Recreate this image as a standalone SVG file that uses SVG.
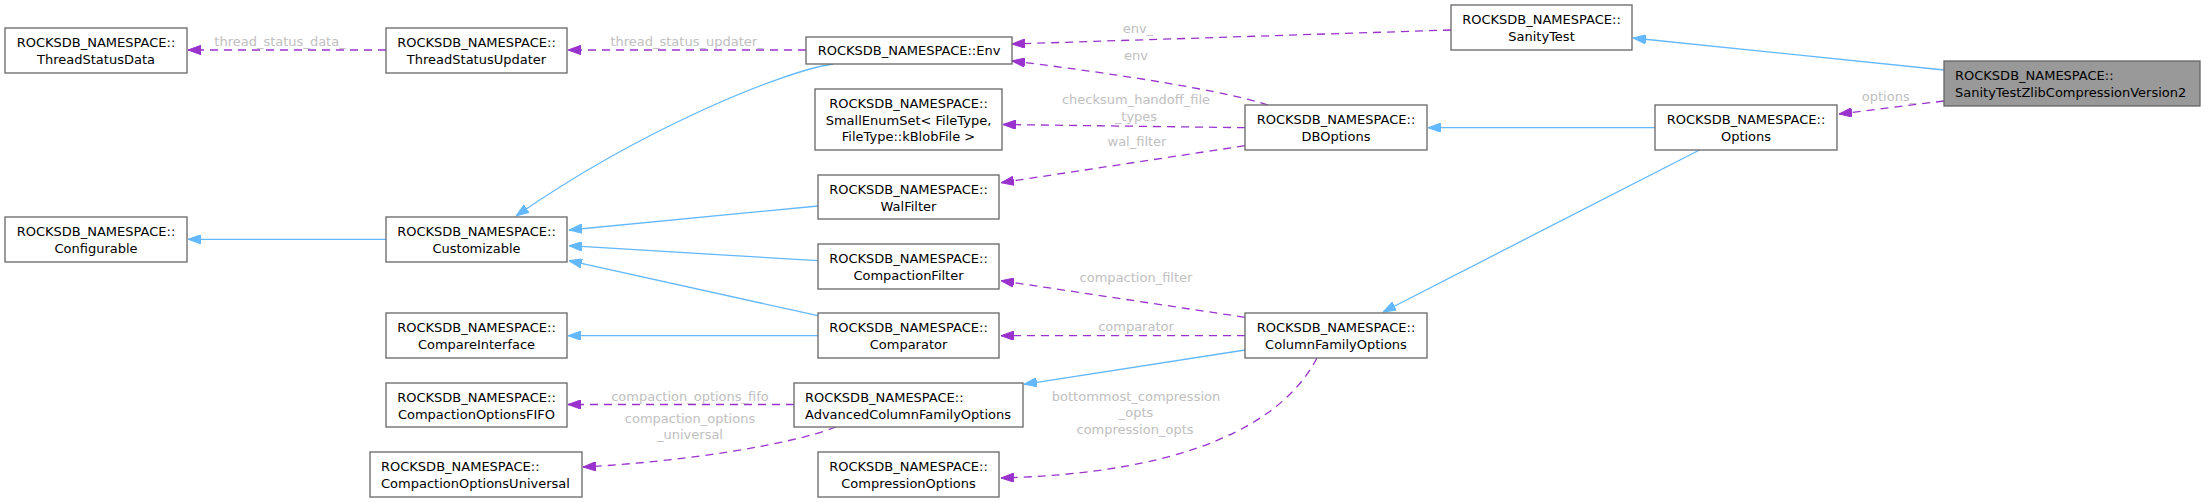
<svg xmlns="http://www.w3.org/2000/svg" width="2205" height="502" viewBox="0 0 2205 502">
<style>
.box{fill:#ffffff;stroke:#666666;stroke-width:1.3}
.main{fill:#999999;stroke:#666666;stroke-width:1.3}
.t{font-family:"DejaVu Sans",sans-serif;font-size:13px;fill:#000000}
.c{text-anchor:middle}
.l{text-anchor:start}
.inh{fill:none;stroke:#63b8ff;stroke-width:1.3;marker-end:url(#ab)}
.use{fill:none;stroke:#9a32cd;stroke-width:1.3;stroke-dasharray:8,6;marker-end:url(#ap)}
.lbl{font-family:"DejaVu Sans",sans-serif;font-size:13px;fill:#c0c0c0;text-anchor:middle}
</style>
<defs>
<marker id="ab" viewBox="0 0 13 9.4" refX="13" refY="4.7" markerWidth="13" markerHeight="9.4" markerUnits="userSpaceOnUse" orient="auto"><path d="M0,0 L13,4.7 L0,9.4 z" fill="#63b8ff" stroke="#63b8ff" stroke-width="1"/></marker>
<marker id="ap" viewBox="0 0 13 9.4" refX="13" refY="4.7" markerWidth="13" markerHeight="9.4" markerUnits="userSpaceOnUse" orient="auto"><path d="M0,0 L13,4.7 L0,9.4 z" fill="#9a32cd" stroke="#9a32cd" stroke-width="1"/></marker>
</defs>
<rect width="2205" height="502" fill="#ffffff"/>
<g id="edges">
<path class="inh" d="M1944,70 L1633,38"/>
<path class="use" d="M1944,101 L1839,114"/>
<text class="lbl" x="1889" y="101">options_</text>
<path class="inh" d="M1655,127.7 L1428,127.7"/>
<path class="inh" d="M1699.5,150 L1383,312"/>
<path class="use" d="M1451,30 L1012,44"/>
<text class="lbl" x="1138" y="33">env_</text>
<path class="use" d="M1268,105 C1230,92 1120,74 1012,61"/>
<text class="lbl" x="1136" y="60">env</text>
<path class="use" d="M1245,127.7 L1003,124.5"/>
<text class="lbl" x="1136" y="104">checksum_handoff_file</text>
<text class="lbl" x="1136" y="120.5">_types</text>
<path class="use" d="M1245,145.7 L1001,182.7"/>
<text class="lbl" x="1137" y="146">wal_filter</text>
<path class="inh" d="M833,64 C780,72 640,130 516,216"/>
<path class="inh" d="M818,206 L569,230"/>
<path class="inh" d="M818,260.7 L569,245.7"/>
<path class="inh" d="M818,315.7 L569,260.7"/>
<path class="inh" d="M818,335.7 L568,335.7"/>
<path class="inh" d="M386,239.3 L188,239.3"/>
<path class="use" d="M386,50 L188,50"/>
<text class="lbl" x="280" y="46">thread_status_data_</text>
<path class="use" d="M806,50 L568,50"/>
<text class="lbl" x="687" y="46">thread_status_updater_</text>
<path class="use" d="M1245,317.3 L1001,280.7"/>
<text class="lbl" x="1136" y="282">compaction_filter</text>
<path class="use" d="M1245,335.7 L1001,335.7"/>
<text class="lbl" x="1136" y="331">comparator</text>
<path class="inh" d="M1245,350 L1024,384.3"/>
<path class="use" d="M1317,358 C1295,400 1230,472 1001,478"/>
<text class="lbl" x="1136" y="400.5">bottommost_compression</text>
<text class="lbl" x="1136" y="417">_opts</text>
<text class="lbl" x="1135" y="434">compression_opts</text>
<path class="use" d="M794,404.5 L568,404.5"/>
<text class="lbl" x="690" y="401">compaction_options_fifo</text>
<path class="use" d="M836,427 C790,445 680,462 583,467"/>
<text class="lbl" x="690" y="422.5">compaction_options</text>
<text class="lbl" x="690" y="439">_universal</text>
</g>
<g id="n_main"><rect class="main" x="1944" y="61" width="256" height="45"/><text class="t l" x="1955" y="80">ROCKSDB_NAMESPACE::</text><text class="t l" x="1955" y="97">SanityTestZlibCompressionVersion2</text></g>
<g id="n_sanitytest"><rect class="box" x="1451" y="5" width="181" height="45"/><text class="t c" x="1541.5" y="24">ROCKSDB_NAMESPACE::</text><text class="t c" x="1541.5" y="41">SanityTest</text></g>
<g id="n_options"><rect class="box" x="1655" y="105" width="182" height="45"/><text class="t c" x="1746" y="124">ROCKSDB_NAMESPACE::</text><text class="t c" x="1746" y="141">Options</text></g>
<g id="n_dboptions"><rect class="box" x="1245" y="105" width="182" height="45"/><text class="t c" x="1336" y="124">ROCKSDB_NAMESPACE::</text><text class="t c" x="1336" y="141">DBOptions</text></g>
<g id="n_cfoptions"><rect class="box" x="1245" y="313" width="182" height="45"/><text class="t c" x="1336" y="332">ROCKSDB_NAMESPACE::</text><text class="t c" x="1336" y="349">ColumnFamilyOptions</text></g>
<g id="n_env"><rect class="box" x="806" y="37" width="206" height="27"/><text class="t c" x="909" y="55">ROCKSDB_NAMESPACE::Env</text></g>
<g id="n_smallenumset"><rect class="box" x="815" y="89" width="187" height="61"/><text class="t c" x="908.5" y="108">ROCKSDB_NAMESPACE::</text><text class="t c" x="908.5" y="124.5">SmallEnumSet&lt; FileType,</text><text class="t c" x="908.5" y="141">FileType::kBlobFile &gt;</text></g>
<g id="n_walfilter"><rect class="box" x="818" y="175" width="181" height="44"/><text class="t c" x="908.5" y="193.5">ROCKSDB_NAMESPACE::</text><text class="t c" x="908.5" y="210.5">WalFilter</text></g>
<g id="n_compactionfilter"><rect class="box" x="818" y="244" width="181" height="45"/><text class="t c" x="908.5" y="263">ROCKSDB_NAMESPACE::</text><text class="t c" x="908.5" y="280">CompactionFilter</text></g>
<g id="n_comparator"><rect class="box" x="818" y="313" width="181" height="45"/><text class="t c" x="908.5" y="332">ROCKSDB_NAMESPACE::</text><text class="t c" x="908.5" y="349">Comparator</text></g>
<g id="n_advcfo"><rect class="box" x="794" y="383" width="229" height="44"/><text class="t l" x="805" y="401.5">ROCKSDB_NAMESPACE::</text><text class="t l" x="805" y="418.5">AdvancedColumnFamilyOptions</text></g>
<g id="n_compressionoptions"><rect class="box" x="818" y="452" width="181" height="45"/><text class="t c" x="908.5" y="471">ROCKSDB_NAMESPACE::</text><text class="t c" x="908.5" y="488">CompressionOptions</text></g>
<g id="n_threadstatusupdater"><rect class="box" x="386" y="28" width="181" height="45"/><text class="t c" x="476.5" y="47">ROCKSDB_NAMESPACE::</text><text class="t c" x="476.5" y="64">ThreadStatusUpdater</text></g>
<g id="n_customizable"><rect class="box" x="386" y="217" width="181" height="45"/><text class="t c" x="476.5" y="236">ROCKSDB_NAMESPACE::</text><text class="t c" x="476.5" y="253">Customizable</text></g>
<g id="n_compareinterface"><rect class="box" x="386" y="313" width="181" height="45"/><text class="t c" x="476.5" y="332">ROCKSDB_NAMESPACE::</text><text class="t c" x="476.5" y="349">CompareInterface</text></g>
<g id="n_fifo"><rect class="box" x="386" y="383" width="181" height="44"/><text class="t c" x="476.5" y="401.5">ROCKSDB_NAMESPACE::</text><text class="t c" x="476.5" y="418.5">CompactionOptionsFIFO</text></g>
<g id="n_universal"><rect class="box" x="370" y="452" width="212" height="45"/><text class="t l" x="381" y="471">ROCKSDB_NAMESPACE::</text><text class="t l" x="381" y="488">CompactionOptionsUniversal</text></g>
<g id="n_threadstatusdata"><rect class="box" x="5" y="28" width="182" height="45"/><text class="t c" x="96" y="47">ROCKSDB_NAMESPACE::</text><text class="t c" x="96" y="64">ThreadStatusData</text></g>
<g id="n_configurable"><rect class="box" x="5" y="217" width="182" height="45"/><text class="t c" x="96" y="236">ROCKSDB_NAMESPACE::</text><text class="t c" x="96" y="253">Configurable</text></g>
</svg>
